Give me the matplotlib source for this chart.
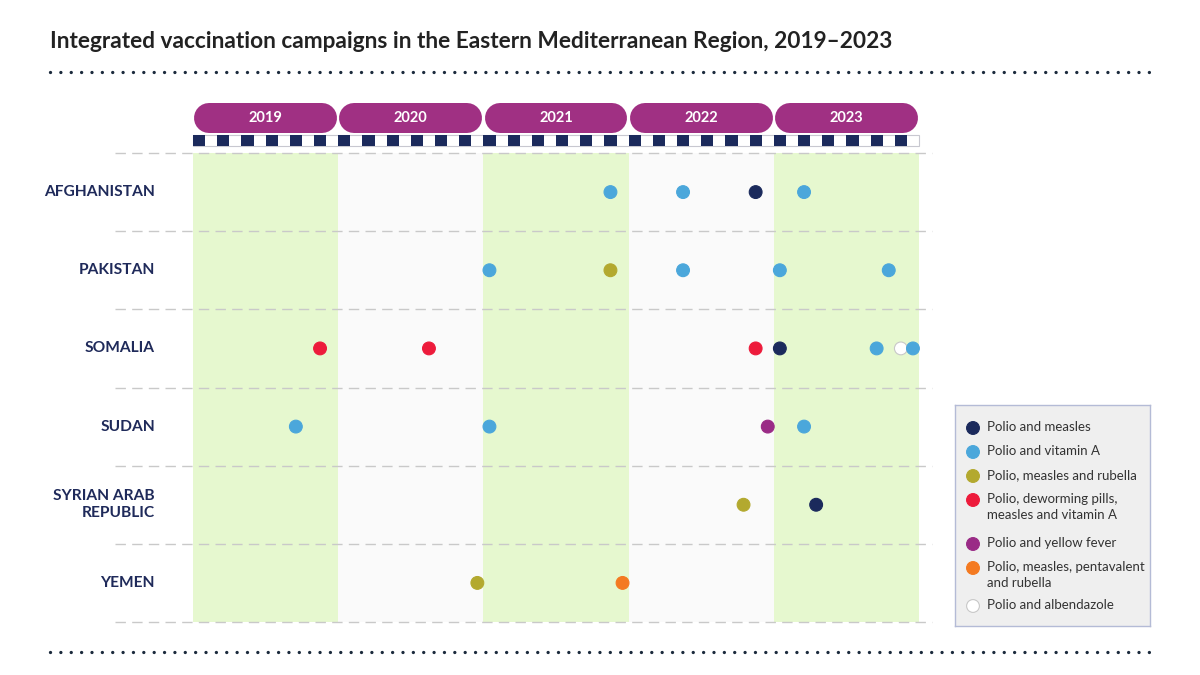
import matplotlib
matplotlib.use('Agg')
import matplotlib.pyplot as plt
from matplotlib.patches import Rectangle
from matplotlib.lines import Line2D

plt.rcParams['font.family'] = ['Lato', 'DejaVu Sans']

# ---- data ----
years = [2019, 2020, 2021, 2022, 2023]
countries = ['AFGHANISTAN', 'PAKISTAN', 'SOMALIA', 'SUDAN',
             'SYRIAN ARAB\nREPUBLIC', 'YEMEN']

campaign_types = ['Polio and measles',
                  'Polio and vitamin A',
                  'Polio, measles and rubella',
                  'Polio, deworming pills,\nmeasles and vitamin A',
                  'Polio and yellow fever',
                  'Polio, measles, pentavalent\nand rubella',
                  'Polio and albendazole']
type_colors = ['#1b2a5c', '#4ba7db', '#b3a92f', '#ed1b3b',
               '#9a2b86', '#f47a21', '#ffffff']

# one entry per campaign: country row, year, month, campaign type
campaign_country = [0, 0, 0, 0,
                    1, 1, 1, 1, 1,
                    2, 2, 2, 2, 2, 2, 2,
                    3, 3, 3, 3,
                    4, 4,
                    5, 5]
campaign_year = [2021, 2022, 2022, 2023,
                 2021, 2021, 2022, 2023, 2023,
                 2019, 2020, 2022, 2023, 2023, 2023, 2023,
                 2019, 2021, 2022, 2023,
                 2022, 2023,
                 2020, 2021]
campaign_month = [11, 5, 11, 3,
                  1, 11, 5, 1, 10,
                  11, 8, 11, 1, 9, 11, 12,
                  9, 1, 12, 3,
                  10, 4,
                  12, 12]
campaign_type = [1, 1, 0, 1,
                 1, 2, 1, 1, 1,
                 3, 3, 3, 0, 1, 6, 1,
                 1, 1, 4, 1,
                 2, 0,
                 2, 5]

navy = '#1f2a5a'
W, H = 1200, 675

fig = plt.figure(figsize=(12, 6.75), dpi=100)
fig.patch.set_facecolor('white')

# title and dotted rules
fig.text(50 / W, 1 - 42 / H,
         'Integrated vaccination campaigns in the Eastern Mediterranean Region, 2019\u20132023',
         fontsize=16.3, fontweight='bold', color='#222222', va='center', ha='left')
for yy in [72, 652]:
    fig.add_artist(Line2D([50 / W, 1152 / W], [1 - yy / H] * 2, transform=fig.transFigure,
                          color='#1b2a3c', lw=2.4, ls=(0, (0.01, 3.1)),
                          dash_capstyle='round'))

# ---- main timeline ----
ax = fig.add_axes([193 / W, 1 - 622 / H, 726 / W, 469 / H])
ax.set_xlim(2019, 2024)
ax.set_ylim(len(countries), 0)
ax.axis('off')

for i, yr in enumerate(years):
    ax.axvspan(yr, yr + 1, color='#e6f8cf' if i % 2 == 0 else '#fafafa', lw=0, zorder=0)

for k in range(len(countries) + 1):
    ax.axhline(k, xmin=-78 / 726, xmax=739 / 726, color='#c9c9c9', lw=1,
               ls=(0, (7.5, 4.5)), clip_on=False, zorder=1)

for i, name in enumerate(countries):
    ax.text(2019 - 38 / 145.2, i + 0.5, name, ha='right', va='center',
            fontsize=11.2, fontweight='bold', color=navy, linespacing=1.25,
            clip_on=False)

xs = [y + (m - 0.5) / 12 for y, m in zip(campaign_year, campaign_month)]
ys = [c + 0.5 for c in campaign_country]
cols = [type_colors[t] for t in campaign_type]
edges = ['#c8c8c8' if t == 6 else type_colors[t] for t in campaign_type]
ax.scatter(xs, ys, s=85, c=cols, edgecolors=edges, linewidths=0.8, zorder=3, clip_on=False)

# ---- header with year pills and month checker ----
axh = fig.add_axes([193 / W, 1 - 147 / H, 726 / W, 44 / H])
axh.set_xlim(2019, 2024)
axh.set_ylim(0, 1)
axh.axis('off')
cap = 15 / 145.2  # round cap radius in years (half the pill height)
for yr in years:
    axh.plot([yr + 0.008 + cap, yr + 0.992 - cap], [0.66, 0.66], color='#a03083',
             lw=21.6, solid_capstyle='round', clip_on=False)
    axh.text(yr + 0.5, 0.66, str(yr), ha='center', va='center', color='white',
             fontsize=10.5, fontweight='bold')
axh.add_patch(Rectangle((2019, 0.023), 5, 0.25, fc='white', ec='#c8c8d0', lw=0.8,
                        clip_on=False))
for m in range(0, 60, 2):
    axh.add_patch(Rectangle((2019 + m / 12, 0.023), 1 / 12, 0.25, fc='#1b2a5c',
                            ec='none', clip_on=False))

# ---- legend ----
axl = fig.add_axes([955 / W, 1 - 626 / H, 195 / W, 221 / H])
axl.set_xlim(0, 195)
axl.set_ylim(221, 0)
axl.set_facecolor('#efefef')
axl.set_xticks([])
axl.set_yticks([])
for s in axl.spines.values():
    s.set_color('#b4bbd6')
    s.set_linewidth(1)
legend_y = [23, 47, 71, 95, 139, 163, 201]
axl.scatter([18] * len(legend_y), legend_y, s=85, c=type_colors,
            edgecolors=[c if c != '#ffffff' else '#c8c8c8' for c in type_colors],
            linewidths=0.8)
for ly, lab in zip(legend_y, campaign_types):
    axl.text(32, ly - 7, lab, ha='left', va='top', fontsize=9.5, color='#333333',
             linespacing=1.4)

fig.savefig('out.png', dpi=100)
